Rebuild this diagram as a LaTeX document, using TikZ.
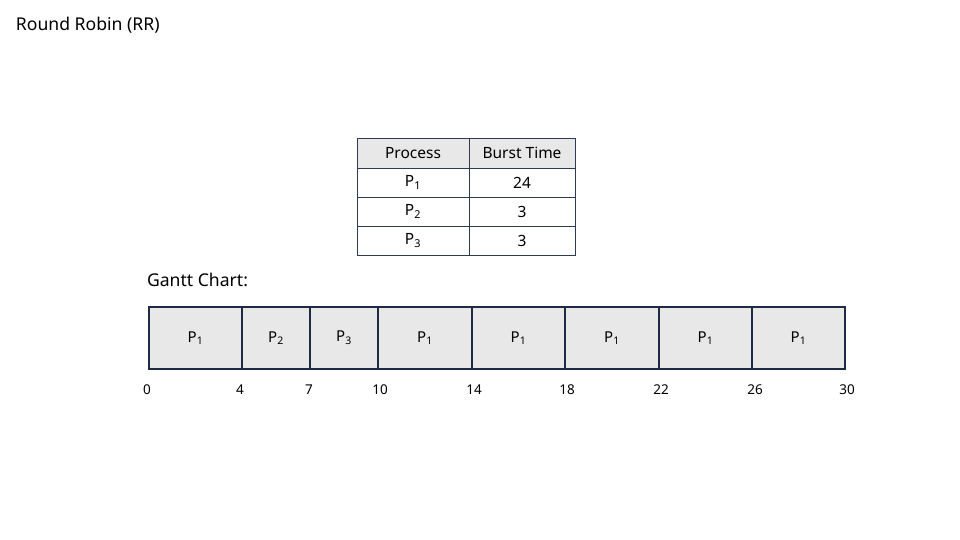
\documentclass[tikz,border=0pt]{standalone}
\usepackage{fontspec}
\setmainfont{Noto Sans}
\begin{document}
\begin{tikzpicture}[x=1pt,y=-1pt,
  every node/.style={inner sep=0pt,outer sep=0pt},
  cell/.style={draw=tblline,line width=0.9pt,anchor=north west,font=\fontsize{15.5}{17}\selectfont},
  hcell/.style={cell,fill=boxfill},
  gbox/.style={draw=ganttline,line width=1.8pt,fill=boxfill,anchor=north west,minimum height=62pt,font=\fontsize{15}{17}\selectfont},
  tick/.style={font=\fontsize{13.5}{15}\selectfont},
  heading/.style={anchor=west,font=\fontsize{17.6}{20}\selectfont}]
\definecolor{boxfill}{HTML}{E8E8E8}
\definecolor{tblline}{HTML}{2E3B55}
\definecolor{ganttline}{HTML}{1F2B45}
\useasboundingbox (0,0) rectangle (960,540);
\node[heading] (title) at (16,25) {Round Robin (RR)};
% table
\node[hcell,minimum width=112pt,minimum height=30pt] (h1) at (357,138) {Process};
\node[hcell,minimum width=106pt,minimum height=30pt] (h2) at (469,138) {Burst Time};
\node[cell,minimum width=112pt,minimum height=29pt] (p1) at (357,168) {P\textsubscript{1}};
\node[cell,minimum width=106pt,minimum height=29pt] (b1) at (469,168) {24};
\node[cell,minimum width=112pt,minimum height=29pt] (p2) at (357,197) {P\textsubscript{2}};
\node[cell,minimum width=106pt,minimum height=29pt] (b2) at (469,197) {3};
\node[cell,minimum width=112pt,minimum height=29pt] (p3) at (357,226) {P\textsubscript{3}};
\node[cell,minimum width=106pt,minimum height=29pt] (b3) at (469,226) {3};
% gantt
\node[heading] (gtitle) at (147,280) {Gantt Chart:};
\node[gbox,minimum width=93pt] (g1) at (149,307) {P\textsubscript{1}};
\node[gbox,minimum width=68pt] (g2) at (242,307) {P\textsubscript{2}};
\node[gbox,minimum width=68pt] (g3) at (310,307) {P\textsubscript{3}};
\node[gbox,minimum width=94pt] (g4) at (378,307) {P\textsubscript{1}};
\node[gbox,minimum width=93pt] (g5) at (472,307) {P\textsubscript{1}};
\node[gbox,minimum width=94pt] (g6) at (565,307) {P\textsubscript{1}};
\node[gbox,minimum width=93pt] (g7) at (659,307) {P\textsubscript{1}};
\node[gbox,minimum width=93pt] (g8) at (752,307) {P\textsubscript{1}};
% ticks
\node[tick] (t0) at (147,390) {0};
\node[tick] (t4) at (240,390) {4};
\node[tick] (t7) at (309,390) {7};
\node[tick] (t10) at (380,390) {10};
\node[tick] (t14) at (474,390) {14};
\node[tick] (t18) at (567,390) {18};
\node[tick] (t22) at (661,390) {22};
\node[tick] (t26) at (755,390) {26};
\node[tick] (t30) at (847,390) {30};
\end{tikzpicture}
\end{document}
